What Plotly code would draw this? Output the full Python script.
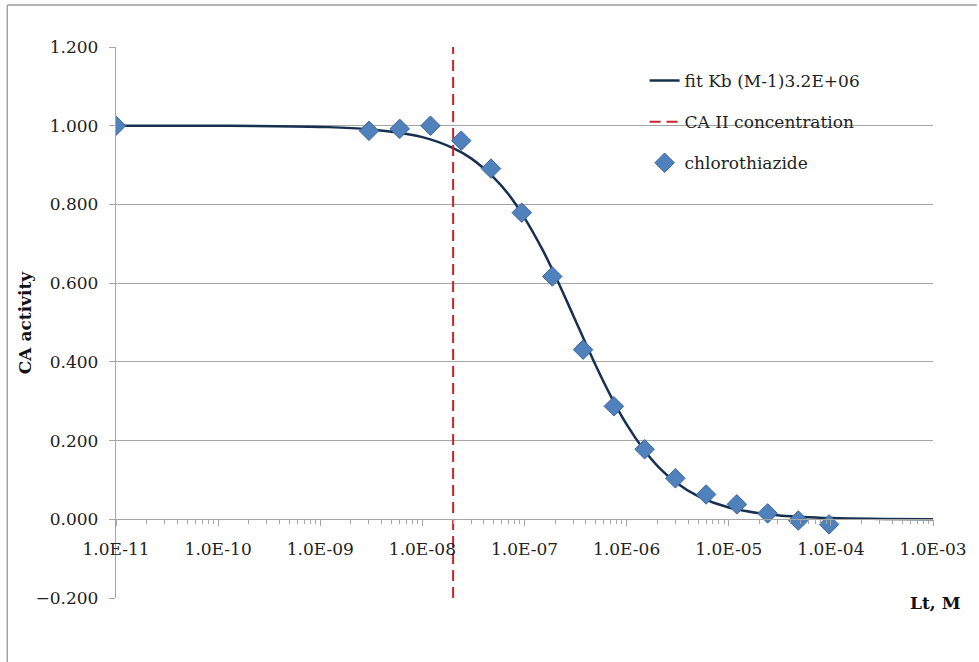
import plotly.graph_objects as go

# Measured data (chlorothiazide)
conc_M = [1e-11, 3.0e-9, 6.0e-9, 1.2e-8, 2.4e-8, 4.7e-8, 9.4e-8, 1.87e-7, 3.75e-7,
          7.5e-7, 1.5e-6, 3.0e-6, 6.0e-6, 1.2e-5, 2.4e-5, 4.8e-5, 9.6e-5]
activity = [1.000, 0.987, 0.992, 1.000, 0.962, 0.891, 0.779, 0.617, 0.431,
            0.287, 0.178, 0.104, 0.063, 0.038, 0.015, -0.003, -0.013]

# Fit curve
fit_x = [1e-11, 1e-10, 1e-9, 3e-9, 1e-8, 2e-8, 3e-8, 5e-8, 7e-8, 1e-7, 1.5e-7, 2e-7,
         3e-7, 5e-7, 7e-7, 1e-6, 1.5e-6, 2e-6, 3e-6, 5e-6, 1e-5, 3e-5, 1e-4, 1e-3]
fit_y = [1.000, 1.000, 0.997, 0.991, 0.971, 0.943, 0.917, 0.868, 0.825, 0.766, 0.685,
         0.619, 0.518, 0.390, 0.313, 0.241, 0.174, 0.136, 0.095, 0.059, 0.030, 0.010,
         0.003, 0.000]

# CA II concentration marker line
ca_conc = [2.0e-8, 2.0e-8]
ca_y = [-0.2, 1.2]

x_tickvals = [1e-11, 1e-10, 1e-9, 1e-8, 1e-7, 1e-6, 1e-5, 1e-4, 1e-3]
x_ticktext = ["1.0E-11", "1.0E-10", "1.0E-09", "1.0E-08", "1.0E-07",
              "1.0E-06", "1.0E-05", "1.0E-04", "1.0E-03"]

FONT = "DejaVu Serif"
GRID = "#A6A6A6"
TXT = "#222222"

fig = go.Figure()
fig.add_trace(go.Scatter(
    x=fit_x, y=fit_y, mode="lines", name="fit Kb (M-1)3.2E+06",
    line=dict(color="#17304F", width=2.5, shape="spline", smoothing=1.0),
    legendgroup="a"))
fig.add_trace(go.Scatter(
    x=ca_conc, y=ca_y, mode="lines", name="CA II concentration",
    line=dict(color="#C8232C", width=2, dash="11px,6px"),
    legendgroup="b"))
fig.add_trace(go.Scatter(
    x=conc_M, y=activity, mode="markers", name="chlorothiazide",
    marker=dict(symbol="diamond", size=15, color="#4F81BD",
                line=dict(color="#3B6699", width=1)),
    legendgroup="c"))

minor_vals = [d * 10.0 ** e for e in range(-11, -3) for d in range(2, 10)]

fig.update_layout(
    width=979, height=662,
    margin=dict(l=116, r=44, t=47, b=64),
    paper_bgcolor="white", plot_bgcolor="white",
    font=dict(family=FONT, size=17, color=TXT),
    showlegend=True,
    legend=dict(x=0.647, y=0.971, xanchor="left", yanchor="top",
                bgcolor="rgba(0,0,0,0)", tracegroupgap=16,
                font=dict(family=FONT, size=17, color=TXT),
                itemwidth=30),
    xaxis=dict(type="log", range=[-11, -3], anchor="free",
               position=(0 - (-0.2)) / (1.2 - (-0.2)),
               tickmode="array", tickvals=x_tickvals, ticktext=x_ticktext,
               showgrid=False, zeroline=False, showline=True,
               linecolor=GRID, linewidth=1.3,
               ticks="outside", ticklen=6, tickcolor=GRID, tickwidth=1.3,
               ticklabelstandoff=8,
               minor=dict(tickmode="array", tickvals=minor_vals, ticks="outside",
                          ticklen=4, tickcolor=GRID, tickwidth=1.2, showgrid=False),
               tickfont=dict(family=FONT, size=17, color=TXT)),
    yaxis=dict(range=[-0.2, 1.2], tickmode="linear", tick0=-0.2, dtick=0.2,
               tickformat=".3f", showgrid=True, gridcolor=GRID, gridwidth=1.3,
               zeroline=False, showline=True, linecolor=GRID, linewidth=1.3,
               ticks="outside", ticklen=6, tickcolor=GRID, tickwidth=1.3,
               ticklabelstandoff=7,
               tickfont=dict(family=FONT, size=17, color=TXT)),
)

fig.add_annotation(text="<b>CA activity</b>", xref="paper", yref="paper",
                   x=(25 - 116) / 819, y=(598 - 322) / 551,
                   textangle=-90, showarrow=False,
                   font=dict(family=FONT, size=17, color="#111111"),
                   xanchor="center", yanchor="middle")
fig.add_annotation(text="<b>Lt, M</b>", xref="paper", yref="paper",
                   x=(938 - 116) / 819, y=(598 - 603) / 551, showarrow=False,
                   font=dict(family=FONT, size=17, color="#111111"),
                   xanchor="center", yanchor="middle")

# outer chart frame (top and left edges visible)
fig.add_shape(type="line", xref="paper", yref="paper",
              x0=(7 - 116) / 819, x1=(979 - 116) / 819,
              y0=(598 - 5) / 551, y1=(598 - 5) / 551,
              line=dict(color="#999999", width=1.3))
fig.add_shape(type="line", xref="paper", yref="paper",
              x0=(7 - 116) / 819, x1=(7 - 116) / 819,
              y0=(598 - 5) / 551, y1=(598 - 662) / 551,
              line=dict(color="#999999", width=1.3))

fig.write_html("out.html", config={"displayModeBar": False},
               post_script="document.body.style.margin='0px';document.body.style.overflow='hidden';")
